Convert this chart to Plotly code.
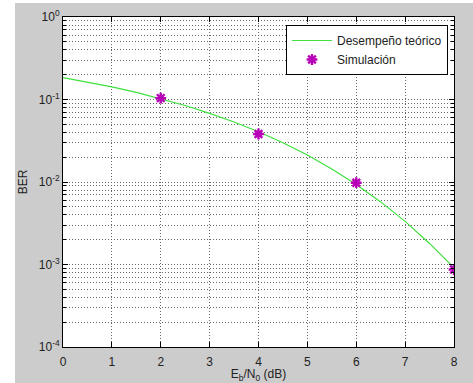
import plotly.graph_objects as go

# Theoretical curve
ebn0_theory = [0, 0.5, 1, 1.5, 2, 2.5, 3, 3.5, 4, 4.5, 5, 5.5, 6, 6.5, 7, 7.5, 8]
ber_theory = [0.184, 0.163, 0.142, 0.122, 0.1025, 0.0845, 0.068, 0.0533, 0.0406,
              0.0299, 0.0212, 0.0144, 0.00933, 0.00574, 0.00333, 0.0018, 0.00091]

# Simulation points
ebn0_sim = [2, 4, 6, 8]
ber_sim = [0.104, 0.0382, 0.0098, 0.00087]

ytick_vals = [1e-4, 1e-3, 1e-2, 1e-1, 1e0]
ytick_text = ["10<sup>-4</sup>", "10<sup>-3</sup>", "10<sup>-2</sup>", "10<sup>-1</sup>", "10<sup>0</sup>"]
xtick_vals = [0, 1, 2, 3, 4, 5, 6, 7, 8]

W, H = 473, 383
L, R, T, B = 63, 19, 17, 36

fig = go.Figure()
fig.add_trace(go.Scatter(x=ebn0_theory, y=ber_theory, mode="lines",
                         name="Desempeño teórico",
                         line=dict(color="#3ee03e", width=1.2)))
fig.add_trace(go.Scatter(x=ebn0_sim, y=ber_sim, mode="markers",
                         name="Simulación",
                         marker=dict(symbol="asterisk-open", size=9,
                                     line=dict(color="#b800b8", width=2.4),
                                     color="#b800b8")))

axis_common = dict(showline=True, linecolor="black", linewidth=1, mirror="ticks",
                   ticks="inside", ticklen=5, tickcolor="black",
                   showgrid=True, gridcolor="#666666", griddash="1px,2px", gridwidth=1,
                   zeroline=False, tickfont=dict(size=12, color="#222222"), automargin=False)

fig.update_xaxes(range=[0, 8], tickvals=xtick_vals, ticklabelstandoff=4,
                 title=dict(text="E<sub>b</sub>/N<sub>0</sub> (dB)", font=dict(size=12, color="#222222"), standoff=2),
                 **axis_common)
fig.update_yaxes(type="log", range=[-4, 0], tickvals=ytick_vals, ticktext=ytick_text,
                 title=dict(text="BER", font=dict(size=12, color="#222222"), standoff=8),
                 minor=dict(dtick="D1", showgrid=True, gridcolor="#666666", griddash="1px,2px",
                            gridwidth=1, ticks="inside", ticklen=3, tickcolor="black"),
                 **axis_common)

pw = W - L - R
ph = H - T - B
# white strips at left and top of the image
fig.add_shape(type="rect", xref="paper", yref="paper",
              x0=-L / pw, x1=(15 - L) / pw, y0=-B / ph - 0.1, y1=1 + T / ph + 0.1,
              fillcolor="white", line_width=0, layer="below")
fig.add_shape(type="rect", xref="paper", yref="paper",
              x0=-L / pw, x1=1 + R / pw + 0.1, y0=1 + (T - 3) / ph, y1=1 + T / ph + 0.1,
              fillcolor="white", line_width=0, layer="below")

fig.update_layout(
    width=W, height=H,
    margin=dict(l=L, r=R, t=T, b=B),
    paper_bgcolor="#cccccc", plot_bgcolor="white",
    font=dict(family="Liberation Sans, Arial, sans-serif", size=12, color="#222222"),
    legend=dict(x=(448 - L) / pw, xanchor="right", y=1 - (25 - T) / ph, yanchor="top",
                bgcolor="white", bordercolor="black", borderwidth=1,
                font=dict(size=12), itemwidth=40, tracegroupgap=0),
    showlegend=True,
)

fig.write_html("out.html", config={"displayModeBar": False},
               post_script="document.body.style.margin='0';document.body.style.overflow='hidden';")
